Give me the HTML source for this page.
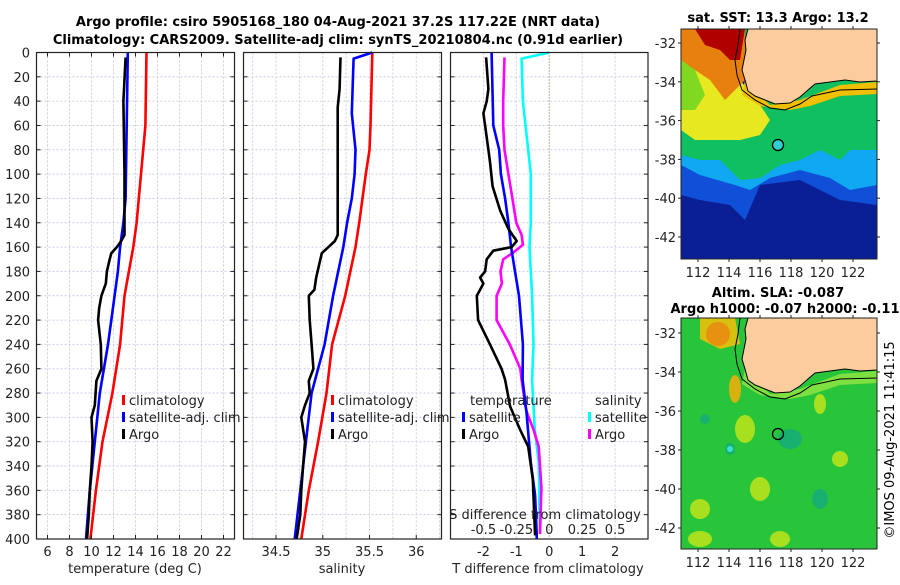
<!DOCTYPE html>
<html><head><meta charset="utf-8"><style>
body{margin:0;background:#fff;}
svg{font-family:"DejaVu Sans","Liberation Sans",sans-serif;}
</style></head><body>
<svg id="s" width="900" height="580" viewBox="0 0 900 580">
<g id="titles" font-weight="bold" font-size="13" text-anchor="middle">
<text x="338" y="26">Argo profile: csiro 5905168_180 04-Aug-2021 37.2S 117.22E (NRT data)</text>
<text x="338" y="44">Climatology: CARS2009. Satellite-adj clim: synTS_20210804.nc (0.91d earlier)</text>
<text x="778" y="22">sat. SST: 13.3 Argo: 13.2</text>
<text x="778" y="297">Altim. SLA: -0.087</text>
<text x="785" y="313">Argo h1000: -0.07 h2000: -0.11</text>
</g>
<g id="panels"></g>
<g id="maps"></g>
<text x="0" y="0" transform="translate(894,440) rotate(-90)" font-size="13" text-anchor="middle">©IMOS 09-Aug-2021 11:41:15</text>
</svg>
<script>
// ---- data ----
const depthTicks=[0,20,40,60,80,100,120,140,160,180,200,220,240,260,280,300,320,340,360,380,400];
const tempTicks=[6,8,10,12,14,16,18,20,22];
const salTicks=[34.5,35,35.5,36];
const tdiffTicks=[-2,-1,0,1,2];
const sdiffTicks=[-0.5,-0.25,0,0.25,0.5];
const sdiffLabels=["-0.5","-0.25","0","0.25","0.5"];

const tClimDepth=[0,60,100,140,160,180,200,240,280,320,360,400];
const tClim=[15.0,14.9,14.5,14.1,13.8,13.4,13.0,12.6,11.9,11.0,10.4,9.9];
const tSatDepth=[0,60,120,140,160,180,200,240,280,320,360,400];
const tSat=[13.3,13.2,13.1,12.9,12.6,12.4,12.1,11.5,10.75,10.3,9.85,9.5];
const tArgoDepth=[4,40,100,150,155,160,165,170,180,190,200,210,220,240,260,270,290,300,320,340,360,380,400];
const tArgo=[13.1,12.9,13.0,13.0,12.7,12.3,11.8,11.65,11.4,11.3,10.9,10.7,10.6,10.85,10.9,10.45,10.3,10.0,10.1,10.0,9.85,9.75,9.6];

const sClimDepth=[0,60,80,100,140,160,200,240,280,320,360,400];
const sClim=[35.53,35.51,35.5,35.46,35.39,35.35,35.24,35.1,35.04,34.95,34.85,34.77];
const sSatDepth=[0,5,50,80,100,120,140,160,200,240,280,320,360,400];
const sSat=[35.53,35.33,35.31,35.35,35.34,35.31,35.26,35.22,35.11,35.02,34.88,34.82,34.76,34.70];
const sArgoDepth=[4,30,45,100,150,155,160,165,175,185,195,200,220,240,260,270,280,290,300,320,340,360,380,400];
const sArgo=[35.19,35.18,35.16,35.16,35.16,35.13,35.06,34.99,34.96,34.93,34.91,34.85,34.86,34.88,34.9,34.85,34.86,34.81,34.77,34.81,34.79,34.77,34.76,34.72];

const dTSatDepth=[0,60,80,100,120,140,160,180,200,240,269,296,337,364,396,400];
const dTSat=[-1.75,-1.7,-1.52,-1.47,-1.34,-1.24,-1.16,-1.04,-0.92,-0.8,-0.81,-0.69,-0.56,-0.43,-0.38,-0.38];
const dTArgoDepth=[4,30,40,50,60,80,90,110,130,145,155,160,163,170,180,185,190,200,220,240,260,269,291,310,324,351,397];
const dTArgo=[-1.92,-1.85,-1.9,-2.0,-1.95,-1.85,-1.8,-1.72,-1.49,-1.24,-0.99,-1.14,-1.7,-1.9,-1.95,-2.1,-2.0,-2.2,-2.16,-1.8,-1.45,-1.34,-1.19,-0.89,-0.64,-0.5,-0.43];
const dSSatDepth=[0,5,40,60,80,100,140,160,200,240,269,310,337,396];
const dSSat=[0,-0.21,-0.2,-0.18,-0.16,-0.14,-0.14,-0.15,-0.13,-0.12,-0.13,-0.11,-0.08,-0.07];
const dSArgoDepth=[4,40,60,80,100,120,140,150,158,165,170,180,190,200,220,240,260,269,291,296,310,324,340,358,396];
const dSArgo=[-0.34,-0.35,-0.35,-0.34,-0.31,-0.28,-0.25,-0.21,-0.2,-0.28,-0.35,-0.37,-0.36,-0.4,-0.4,-0.3,-0.22,-0.21,-0.18,-0.17,-0.12,-0.08,-0.07,-0.06,-0.07];

const lonTicks=[112,114,116,118,120,122];
const latTicks=[-32,-34,-36,-38,-40,-42];

// ---- helpers ----
const NS="http://www.w3.org/2000/svg";
const P=document.getElementById('panels');
const M=document.getElementById('maps');
function mk(tag,attrs,parent){const e=document.createElementNS(NS,tag);for(const k in attrs)e.setAttribute(k,attrs[k]);(parent||P).appendChild(e);return e;}
const top0=52.5,bot0=539;
const yD=d=>top0+(bot0-top0)*d/400;

const panels=[
 {name:'temperature-panel',x0:36.5,x1:234.5,lo:5,hi:23},
 {name:'salinity-panel',x0:243.5,x1:441.5,lo:34.152,hi:36.27},
 {name:'difference-panel',x0:450.5,x1:648,lo:-3,hi:3}
];
panels.forEach(p=>{p.x=v=>p.x0+(v-p.lo)/(p.hi-p.lo)*(p.x1-p.x0);});
const gridV=[[6,8,10,12,14,16,18,20,22],[34.25,34.5,34.75,35,35.25,35.5,35.75,36,36.25],[-2,-1,1,2]];

panels.forEach((p,i)=>{
 const g=mk('g',{});
 
 
 p.g=g;
 depthTicks.forEach(d=>{
  if(d===0||d===400)return;
  const l=mk('line',{x1:p.x0,x2:p.x1,y1:yD(d),y2:yD(d),stroke:'#c8cde8','stroke-width':1,'stroke-dasharray':'2,2'},g);
  
  
 });
 gridV[i].forEach(v=>{
  const l=mk('line',{x1:p.x(v),x2:p.x(v),y1:top0,y2:bot0,stroke:'#c8cde8','stroke-width':1,'stroke-dasharray':'2,2'},g);
  
  
 });
 depthTicks.forEach(d=>{
  mk('line',{x1:p.x0,x2:p.x0+4,y1:yD(d),y2:yD(d),stroke:'#222'},g);
  mk('line',{x1:p.x1-4,x2:p.x1,y1:yD(d),y2:yD(d),stroke:'#222'},g);
 });
});
{const p=panels[2];const l=mk('line',{x1:p.x(0),x2:p.x(0),y1:top0,y2:bot0,stroke:'#556b2f','stroke-width':1,'stroke-dasharray':'1,2'},p.g);
 }

function series(p,depths,vals,color,name,scale){
 const pts=depths.map((d,i)=>p.x(vals[i]*(scale||1)).toFixed(1)+','+yD(d).toFixed(1)).join(' ');
 const e=mk('polyline',{points:pts,fill:'none',stroke:color,'stroke-width':2.6,'stroke-linejoin':'round'},p.g);
 
 
}
series(panels[0],tClimDepth,tClim,'#ff0000','temp-climatology-line');
series(panels[0],tSatDepth,tSat,'#0000ff','temp-satellite-line');
series(panels[0],tArgoDepth,tArgo,'#000','temp-argo-line');
series(panels[1],sClimDepth,sClim,'#ff0000','sal-climatology-line');
series(panels[1],sSatDepth,sSat,'#0000ff','sal-satellite-line');
series(panels[1],sArgoDepth,sArgo,'#000','sal-argo-line');
series(panels[2],dSSatDepth,dSSat,'#00ffff','sdiff-satellite-line',4);
series(panels[2],dSArgoDepth,dSArgo,'#ff00ff','sdiff-argo-line',4);
series(panels[2],dTSatDepth,dTSat,'#0000ff','tdiff-satellite-line');
series(panels[2],dTArgoDepth,dTArgo,'#000','tdiff-argo-line');

panels.forEach(p=>{
 const b=mk('rect',{x:p.x0,y:top0,width:p.x1-p.x0,height:bot0-top0,fill:'none',stroke:'#222','stroke-width':1.2},p.g);
 
 
});

function txt(s,x,y,attrs,name,parent){const t=mk('text',Object.assign({x:x,y:y,'font-size':13,fill:'#222'},attrs||{}),parent||P);t.textContent=s;
 return t;}
depthTicks.forEach(d=>txt(String(d),30,yD(d)+5,{'text-anchor':'end'},'depth-tick-label'));
tempTicks.forEach(v=>{const p=panels[0];mk('line',{x1:p.x(v),x2:p.x(v),y1:bot0,y2:bot0-4,stroke:'#222'});mk('line',{x1:p.x(v),x2:p.x(v),y1:top0,y2:top0+4,stroke:'#222'});txt(String(v),p.x(v),556,{'text-anchor':'middle'},'temp-tick-label');});
salTicks.forEach(v=>{const p=panels[1];mk('line',{x1:p.x(v),x2:p.x(v),y1:bot0,y2:bot0-4,stroke:'#222'});txt(String(v),p.x(v),556,{'text-anchor':'middle'},'sal-tick-label');});
tdiffTicks.forEach(v=>{const p=panels[2];txt(String(v),p.x(v),556,{'text-anchor':'middle'},'tdiff-tick-label');});
sdiffTicks.forEach((v,i)=>{const p=panels[2];txt(sdiffLabels[i],p.x(v*4),534,{'text-anchor':'middle'},'sdiff-tick-label');});
txt('temperature (deg C)',135,573,{'text-anchor':'middle'},'temp-axis-title');
txt('salinity',342,573,{'text-anchor':'middle'},'sal-axis-title');
txt('T difference from climatology',548,573,{'text-anchor':'middle'},'tdiff-axis-title');
txt('S difference from climatology',545,519,{'text-anchor':'middle'},'sdiff-axis-title');

function legend(x,y,color,label,name){
 const g=mk('g',{});
 mk('rect',{x:x,y:y-10,width:3,height:10,fill:color},g);
 txt(label,x+7,y,{},'legend-label',g);
}
legend(122,405,'#ff0000','climatology','legend-temp-climatology');
legend(122,422,'#0000ff','satellite-adj. clim','legend-temp-satellite');
legend(122,439,'#000','Argo','legend-temp-argo');
legend(331,405,'#ff0000','climatology','legend-sal-climatology');
legend(331,422,'#0000ff','satellite-adj. clim','legend-sal-satellite');
legend(331,439,'#000','Argo','legend-sal-argo');
txt('temperature',470,405,{},'legend-temp-heading');
legend(462,422,'#0000ff','satellite','legend-tdiff-satellite');
legend(462,439,'#000','Argo','legend-tdiff-argo');
txt('salinity',595,405,{},'legend-sal-heading');
legend(588,422,'#00ffff','satellite','legend-sdiff-satellite');
legend(588,439,'#ff00ff','Argo','legend-sdiff-argo');

// ---- maps ----
const mapX0=681,mapX1=877;
const lonX=l=>698+(l-112)*15.5;
function drawMap(y0,y1,latY,kind){
 const g=mk('g',{},M);
 
 
 const dy=y0-29;
 const cp='clip'+kind;
 const cpe=mk('clipPath',{id:cp},g);mk('rect',{x:mapX0,y:y0,width:mapX1-mapX0,height:y1-y0},cpe);
 const c=mk('g',{'clip-path':'url(#'+cp+')'},g);
 const poly=(pts,fill)=>mk('polygon',{points:pts.map(p=>p[0]+','+(p[1]+dy)).join(' '),fill:fill},c);
 if(kind==='sst'){
  mk('rect',{x:mapX0,y:y0,width:196,height:y1-y0,fill:'#0a1e96'},c);
  poly([[681,140],[877,130],[877,205],[840,200],[800,180],[760,185],[745,220],[730,205],[700,200],[681,195]],'#1050d8');
  poly([[681,128],[877,120],[877,185],[850,190],[830,178],[800,170],[770,178],[750,190],[735,185],[700,175],[681,165]],'#10a8f0');
  poly([[681,100],[760,112],[790,108],[877,100],[877,150],[850,150],[840,160],[820,150],[800,160],[780,165],[760,178],[740,180],[720,160],[700,160],[681,155]],'#10c060');
  poly([[745,29],[877,29],[877,118],[800,122],[760,115],[745,110]],'#10c060');
  poly([[681,60],[740,80],[760,105],[770,120],[760,135],[740,140],[715,140],[695,140],[681,130]],'#e8e820');
  poly([[681,29],[745,29],[745,80],[735,90],[725,100],[710,80],[695,70],[681,65]],'#e88010');
  poly([[695,29],[745,29],[740,60],[730,60],[720,50],[705,45]],'#b00000');
  poly([[681,60],[695,70],[705,95],[695,110],[681,110]],'#80d820');
  poly([[745,80],[770,105],[800,100],[840,85],[877,82],[877,94],[840,96],[810,106],[790,110],[760,106],[742,95]],'#f0c000');
 } else {
  mk('rect',{x:mapX0,y:y0,width:196,height:y1-y0,fill:'#28c43a'},c);
  poly([[700,29],[735,29],[740,55],[720,60],[700,50]],'#d8c010');
  mk('ellipse',{cx:718,cy:45+dy,rx:12,ry:12,fill:'#e89010'},c);
  mk('ellipse',{cx:735,cy:100+dy,rx:6,ry:14,fill:'#d8b010'},c);
  [[745,140,10,14],[760,200,10,12],[700,220,10,10],[820,115,6,10],[840,170,8,8],[700,250,12,8],[780,250,10,8]].forEach(e=>mk('ellipse',{cx:e[0],cy:e[1]+dy,rx:e[2],ry:e[3],fill:'#a8e020'},c));
  [[730,160,5,6],[705,130,5,5],[820,210,8,10],[790,150,12,10]].forEach(e=>mk('ellipse',{cx:e[0],cy:e[1]+dy,rx:e[2],ry:e[3],fill:'#18b070'},c));
  mk('ellipse',{cx:730,cy:160+dy,rx:3,ry:3,fill:'#40e0d0'},c);
  poly([[745,80],[770,105],[800,100],[840,85],[877,82],[877,94],[840,96],[810,106],[790,110],[760,106],[742,95]],'#7ee040');
 }
 const land=[[748,29],[877,29],[877,81],[860,82],[845,80],[815,84],[808,90],[800,97],[790,103],[775,104],[765,100],[755,96],[748,91],[745,80],[742,70],[744,60],[746,50],[745,40]];
 const lp=poly(land,'#fbcd9e');lp.setAttribute('stroke','#000');lp.setAttribute('stroke-width','1');
 
 const iso=[[740,29],[738,45],[735,60],[737,75],[742,90],[755,100],[770,108],[785,110],[800,104],[812,96],[840,90],[877,89]];
 mk('polyline',{points:iso.map(p=>p[0]+','+(p[1]+dy)).join(' '),fill:'none',stroke:'#000','stroke-width':1},c);
 const ci=mk('circle',{cx:778,cy:145+dy,r:5.5,fill:kind==='sst'?'#30d0d0':'none',stroke:'#000','stroke-width':1.3},g);
 
 const fr=mk('rect',{x:mapX0,y:y0,width:196,height:y1-y0,fill:'none',stroke:'#222','stroke-width':1},g);
 
 lonTicks.forEach(l=>{mk('line',{x1:lonX(l),x2:lonX(l),y1:y1,y2:y1+3,stroke:'#222'},g);mk('line',{x1:lonX(l),x2:lonX(l),y1:y0,y2:y0-3,stroke:'#222'},g);
  txt(String(l),lonX(l),y1+18,{'text-anchor':'middle'},'lon-tick-label',g);});
 latTicks.forEach((la,i)=>{const y=latY(la);mk('line',{x1:mapX1,x2:mapX1+3,y1:y,y2:y,stroke:'#222'},g);mk('line',{x1:mapX0-3,x2:mapX0,y1:y,y2:y,stroke:'#222'},g);
  txt(String(la),676,y+5,{'text-anchor':'end'},'lat-tick-label',g);});
}
drawMap(29,259,la=>43+(-32-la)*19.4,'sst');
drawMap(318,549,la=>333+(-32-la)*19.5,'sla');
</script>
</body></html>
